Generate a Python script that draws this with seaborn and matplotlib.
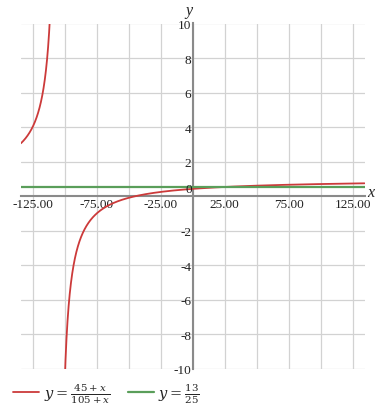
import numpy as np
import matplotlib
matplotlib.use("Agg")
import matplotlib.pyplot as plt
import matplotlib.transforms as mtrans
from matplotlib.lines import Line2D
import seaborn as sns
import pandas as pd

# ---- data ----
num_const = 45      # numerator: 45 + x
den_const = 105     # denominator: 105 + x
const_num, const_den = 13, 25   # y = 13/25
x_min, x_max = -134, 134
y_min, y_max = -10, 10
x_grid = [-125, -100, -75, -50, -25, 0, 25, 50, 75, 100, 125]
x_labeled = [-125, -75, -25, 25, 75, 125]
x_labels = ["-125.00", "-75.00", "-25.00", "25.00", "75.00", "125.00"]
y_ticks = [-10, -8, -6, -4, -2, 2, 4, 6, 8, 10]
y_labels = ["-10", "-8", "-6", "-4", "-2", "2", "4", "6", "8", "10"]
red = "#cc3a3a"
green = "#5a9e5a"

sns.set_theme(style="white")
plt.rcParams["font.family"] = ["Liberation Serif", "DejaVu Serif"]
plt.rcParams["axes.unicode_minus"] = False
plt.rcParams["mathtext.fontset"] = "dejavuserif"

fig = plt.figure(figsize=(3.84, 4.14), dpi=100)
ax = fig.add_axes([21/384, 1-370/414, (364.5-21)/384, (370-24.5)/414])

# curve branches around the asymptote x = -den_const
xl = np.linspace(x_min, -den_const - 5, 800)
xr = np.linspace(-den_const + 4, x_max, 3000)
left = pd.DataFrame({"x": xl, "y": (num_const + xl) / (den_const + xl)})
right = pd.DataFrame({"x": xr, "y": (num_const + xr) / (den_const + xr)})
flat = pd.DataFrame({"x": [x_min, x_max], "y": [const_num / const_den] * 2})

sns.lineplot(data=left, x="x", y="y", ax=ax, color=red, lw=1.3, sort=False)
sns.lineplot(data=right, x="x", y="y", ax=ax, color=red, lw=1.3, sort=False)
sns.lineplot(data=flat, x="x", y="y", ax=ax, color=green, lw=1.6, sort=False)

ax.set_xlim(x_min, x_max)
ax.set_ylim(y_min, y_max)
ax.set_xlabel("")
ax.set_ylabel("")

# grid
for gx in x_grid:
    ax.axvline(gx, color="#d2d2d2", lw=0.9, zorder=0)
for gy in y_ticks:
    ax.axhline(gy, color="#d2d2d2", lw=0.9, zorder=0)

# axes through origin
for s in ["top", "right"]:
    ax.spines[s].set_visible(False)
ax.spines["left"].set_position(("data", 0))
ax.spines["bottom"].set_position(("data", 0))
for s in ["left", "bottom"]:
    ax.spines[s].set_color("#8a8a8a")
    ax.spines[s].set_linewidth(1.5)
    ax.spines[s].set_zorder(1)

ax.set_xticks(x_labeled)
ax.set_xticklabels(x_labels)
ax.set_yticks(y_ticks)
ax.set_yticklabels(y_labels)
ax.tick_params(axis="both", length=0, labelsize=9.5, colors="#222222")
ax.tick_params(axis="x", pad=1.5)
ax.tick_params(axis="y", pad=1)
ax.text(0, 0, "0", transform=ax.transData + mtrans.ScaledTranslation(-1/100, 7/100, fig.dpi_scale_trans),
        ha="right", va="center", fontsize=9.5, color="#222222")

ax.text(0, y_max, "y", transform=ax.transData + mtrans.ScaledTranslation(-4/100, 5/100, fig.dpi_scale_trans),
        ha="center", va="bottom", fontsize=11.5, style="italic", color="#222222")
ax.text(x_max, 0, "x", transform=ax.transData + mtrans.ScaledTranslation(3/100, 4/100, fig.dpi_scale_trans),
        ha="left", va="center", fontsize=11.5, style="italic", color="#222222")

handles = [Line2D([], [], color=red, lw=1.3), Line2D([], [], color=green, lw=1.6)]
labels = [r"$y=\frac{45+x}{105+x}$", r"$y=\frac{13}{25}$"]
fig.legend(handles, labels, loc="lower left", bbox_to_anchor=(0.0, -0.012), ncol=2, frameon=False,
           fontsize=10.5, handlelength=1.8, handletextpad=0.3, columnspacing=1.2)

fig.savefig("out.png", dpi=100)
